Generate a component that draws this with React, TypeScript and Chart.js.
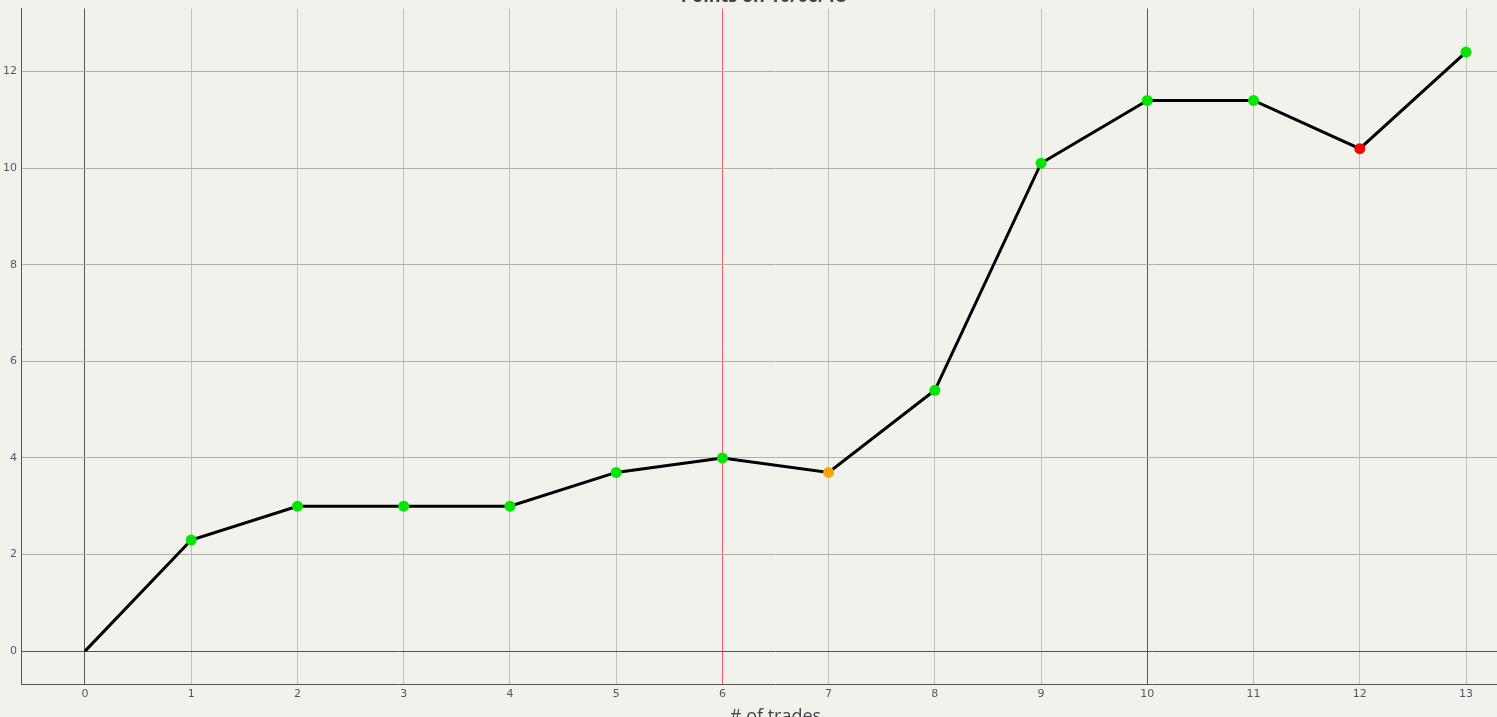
import React, { useEffect, useRef } from "react";
import { Chart, registerables } from "chart.js";

Chart.register(...registerables);

const trades = [0, 1, 2, 3, 4, 5, 6, 7, 8, 9, 10, 11, 12, 13];
const points = [0, 2.3, 3.0, 3.0, 3.0, 3.7, 4.0, 3.7, 5.4, 10.1, 11.4, 11.4, 10.4, 12.4];
const pointColors = [
  "#00e600", "#00e600", "#00e600", "#00e600", "#00e600", "#00e600", "#00e600",
  "#ffa500", "#00e600", "#00e600", "#00e600", "#00e600", "#ff0000", "#00e600",
];
const pointRadii = [0, 5.5, 5.5, 5.5, 5.5, 5.5, 5.5, 5.5, 5.5, 5.5, 5.5, 5.5, 5.5, 5.5];
const darkXLines = [0, 10];
const markerX = 6;
const titleText = "Points on 10/06/18";
const xTitle = "# of trades";

export default function App() {
  const ref = useRef<HTMLCanvasElement | null>(null);

  useEffect(() => {
    if (!ref.current) return;
    const chart = new Chart(ref.current, {
      type: "line",
      data: {
        datasets: [
          {
            data: trades.map((t, i) => ({ x: t, y: points[i] })),
            borderColor: "#000000",
            borderWidth: 3,
            pointBackgroundColor: pointColors,
            pointBorderColor: pointColors,
            pointBorderWidth: 0,
            pointRadius: pointRadii,
            tension: 0,
          },
        ],
      },
      options: {
        animation: false,
        responsive: true,
        maintainAspectRatio: false,
        layout: { padding: { left: 2, right: 31, top: 0, bottom: 0 } },
        plugins: {
          legend: { display: false },
          tooltip: { enabled: false },
          title: {
            display: true,
            text: titleText,
            color: "#444444",
            font: { family: "'Open Sans'", size: 18 },
            padding: { top: 11, bottom: 1 },
          },
        },
        scales: {
          x: {
            type: "linear",
            min: -0.593,
            max: 13.593,
            ticks: {
              stepSize: 1,
              includeBounds: false,
              color: "#555566",
              font: { family: "'DejaVu Sans'", size: 11 },
              padding: 3,
            },
            grid: {
              drawTicks: false,
              lineWidth: 1,
              color: (ctx: any) => {
                const v = ctx.tick ? ctx.tick.value : null;
                if (v === markerX) return "#ff5a6e";
                if (darkXLines.includes(v)) return "#555555";
                return "#c2c2bd";
              },
            },
            border: { color: "#555555", width: 1 },
            title: {
              display: true,
              text: xTitle,
              color: "#444444",
              font: { family: "'Open Sans'", size: 18 },
              padding: { top: 3, bottom: 4 },
            },
          },
          y: {
            type: "linear",
            min: -0.684,
            max: 13.3,
            ticks: {
              stepSize: 2,
              includeBounds: false,
              color: "#555566",
              font: { family: "'DejaVu Sans'", size: 11 },
              padding: 5,
            },
            grid: {
              drawTicks: false,
              lineWidth: 1,
              color: (ctx: any) => {
                const v = ctx.tick ? ctx.tick.value : null;
                if (v === 0) return "#555555";
                return "#b0b0ab";
              },
            },
            border: { color: "#555555", width: 1 },
          },
        },
      },
    });
    return () => chart.destroy();
  }, []);

  return (
    <div style={{ position: "fixed", inset: 0, background: "#f2f2ec", overflow: "hidden" }}>
      <div style={{ position: "absolute", left: -4, top: -25, width: 1564, height: 757 }}>
        <canvas ref={ref} />
      </div>
    </div>
  );
}
